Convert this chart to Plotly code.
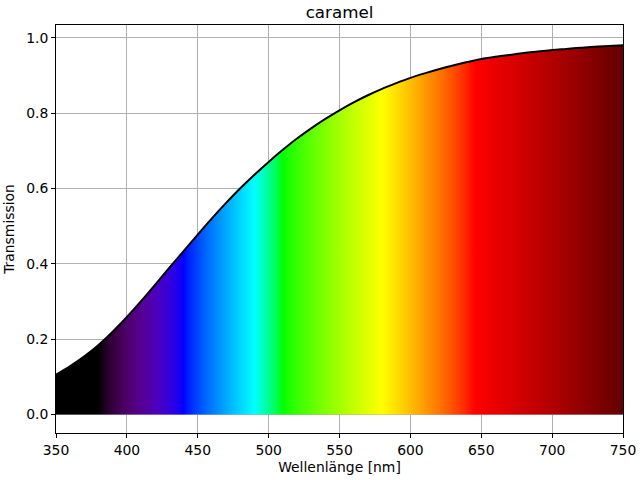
import plotly.graph_objects as go

# Data
wavelength_nm = [350, 360, 370, 380, 390, 400, 410, 420, 430, 440,
                 450, 460, 470, 480, 490, 500, 510, 520, 530, 540,
                 550, 560, 570, 580, 590, 600, 610, 620, 630, 640,
                 650, 660, 670, 680, 690, 700, 710, 720, 730, 740, 750]
transmission = [0.106, 0.129, 0.155, 0.185, 0.220, 0.259, 0.301, 0.345, 0.390, 0.434,
                0.478, 0.521, 0.562, 0.601, 0.637, 0.671, 0.703, 0.733, 0.760, 0.785,
                0.808, 0.829, 0.848, 0.865, 0.880, 0.894, 0.906, 0.917, 0.927, 0.936,
                0.944, 0.950, 0.955, 0.960, 0.964, 0.968, 0.971, 0.974, 0.977, 0.979, 0.981]
x_ticks = [350, 400, 450, 500, 550, 600, 650, 700, 750]
y_ticks = [0.0, 0.2, 0.4, 0.6, 0.8, 1.0]
title_text = "caramel"
x_label = "Wellenlänge [nm]"
y_label = "Transmission"


def spectral_rgb(w, gamma=0.8):
    """Style helper: visible-spectrum colour for a wavelength."""
    if w < 380:
        r = g = b = 0.0
    elif w < 440:
        att = (w - 380) / 60.0
        r = ((440 - w) / 60.0 * att) ** gamma
        g = 0.0
        b = att ** gamma
    elif w < 490:
        r, g, b = 0.0, ((w - 440) / 50.0) ** gamma, 1.0
    elif w < 510:
        r, g, b = 0.0, 1.0, ((510 - w) / 20.0) ** gamma
    elif w < 580:
        r, g, b = ((w - 510) / 70.0) ** gamma, 1.0, 0.0
    elif w < 645:
        r, g, b = 1.0, ((645 - w) / 65.0) ** gamma, 0.0
    else:
        att = 0.3 + 0.7 * (750 - w) / 105.0
        r, g, b = att ** gamma, 0.0, 0.0
    return "rgb(%d,%d,%d)" % (round(r * 255), round(g * 255), round(b * 255))


lo, hi = x_ticks[0], x_ticks[-1]
stops = []
for w in range(lo, hi + 1, 2):
    stops.append([(w - lo) / (hi - lo), spectral_rgb(w)])

fig = go.Figure()
fig.add_trace(go.Scatter(
    x=wavelength_nm, y=transmission, mode="lines",
    line=dict(color="black", width=2, shape="spline", smoothing=1.0),
    fill="tozeroy",
    fillgradient=dict(type="horizontal", colorscale=stops, start=lo, stop=hi),
    hoverinfo="skip", showlegend=False,
))

font = dict(family="DejaVu Sans", size=13.9, color="black")
axis_common = dict(
    showline=True, linecolor="black", linewidth=1, mirror=True,
    ticks="outside", ticklen=4, tickcolor="black", tickwidth=1,
    showgrid=True, gridcolor="#b0b0b0", gridwidth=1, zeroline=False,
    tickfont=font, automargin=False,
)
fig.update_layout(
    width=640, height=480,
    margin=dict(l=56, r=17, t=25, b=47, autoexpand=False),
    paper_bgcolor="white", plot_bgcolor="white",
    font=font,
    title=dict(text=title_text, x=(56 + 623) / 2 / 640, xanchor="center", xref="container",
               y=1 - 12 / 480, yanchor="middle", yref="container", automargin=False,
               font=dict(family="DejaVu Sans", size=16.7, color="black")),
    xaxis=dict(range=[lo, hi], tickvals=x_ticks, ticktext=[str(v) for v in x_ticks],
               title=dict(text=x_label, font=font, standoff=5), **axis_common),
    yaxis=dict(range=[-0.049, 1.0345], tickvals=y_ticks,
               ticktext=["%.1f" % v for v in y_ticks],
               title=dict(text=y_label, font=font, standoff=8), **axis_common),
)
fig.write_html("out.html",
               config={"displayModeBar": False, "staticPlot": True},
               post_script="document.body.style.margin='0';document.body.style.overflow='hidden';")
